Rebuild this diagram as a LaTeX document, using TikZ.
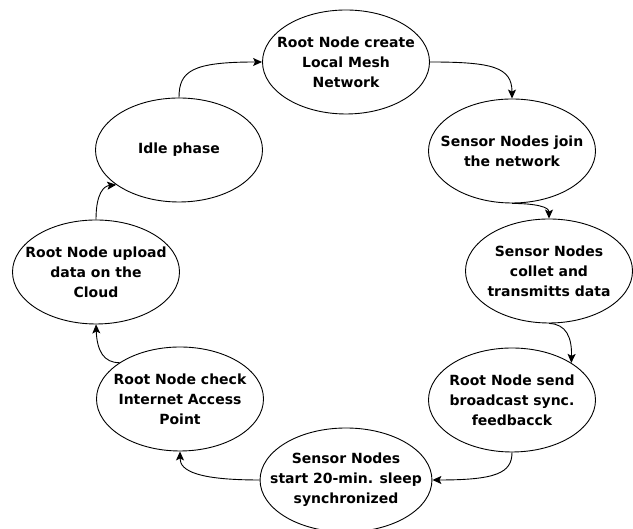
\documentclass[tikz,border=0pt]{standalone}
\usepackage{fontspec}
\setmainfont{DejaVu Sans}
\usetikzlibrary{shapes.geometric,arrows.meta}

\begin{document}
\begin{tikzpicture}[x=1pt, y=1pt,
		phase/.style={draw, ellipse, line width=0.9pt, minimum width=167pt, minimum height=104pt, inner xsep=-15pt, inner ysep=0pt, align=center, font=\fontsize{14pt}{20pt}\selectfont\bfseries},
		flow/.style={draw, line width=0.9pt, -{Stealth[length=9pt, width=8pt, inset=2pt]}}]
		
		\useasboundingbox (0,0) rectangle (633,529);
		
		\node [phase] (top) at (346,467) {Root Node create\\Local Mesh\\Network};
		\node [phase] (join) at (512,378) {Sensor Nodes join\\the network};
		\node [phase] (collet) at (549,258) {Sensor Nodes\\collet and\\transmitts data};
		\node [phase] (broadcast) at (512,129) {Root Node send\\broadcast sync.\\feedbacck};
		\node [phase] (sleep) at (346,49) {Sensor Nodes\\start 20-min. sleep\\synchronized};
		\node [phase] (check) at (180,130) {Root Node check\\Internet Access\\Point};
		\node [phase] (upload) at (96,257) {Root Node upload\\data on the\\Cloud};
		\node [phase] (idle) at (179,379) {Idle phase};
		
		\draw [flow] (idle.north) .. controls (179,458) and (192,467) .. (top.west);
		\draw [flow] (top.east) .. controls (492,467) and (512,462) .. (join.north);
		\draw [flow] (join.south) .. controls (536,325.5) and (549,322) .. (collet.north);
		\draw [flow] (collet.south) .. controls (566,205) and (572,192) .. (broadcast.32);
		\draw [flow] (broadcast.south) .. controls (512,56) and (496,49) .. (sleep.east);
		\draw [flow] (sleep.west) .. controls (198,49) and (180,58) .. (check.south);
		\draw [flow] (check.149) .. controls (104,166) and (97,178) .. (upload.south);
		\draw [flow] (upload.north) .. controls (96,336) and (104,343) .. (idle.209);
		
	\end{tikzpicture}
\end{document}
